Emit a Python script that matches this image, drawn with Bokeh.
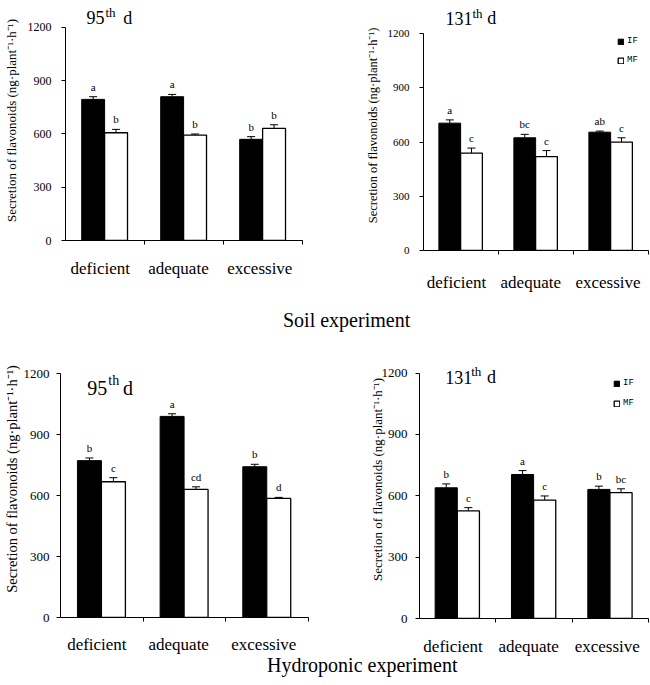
from bokeh.plotting import figure
from bokeh.models import (ColumnDataSource, Range1d, FixedTicker, Whisker, TeeHead,
                          Label, Legend, LegendItem, Div)
from bokeh.core.properties import value
from bokeh.layouts import column, row
from bokeh.embed import file_html
from bokeh.resources import INLINE

SERIF = "Liberation Serif"

# ---- data ----
categories = ["deficient", "adequate", "excessive"]
y_ticks = [0, 300, 600, 900, 1200]
y_title = "Secretion of flavonoids (ng\u00b7plant\u207b\u00b9\u00b7h\u207b\u00b9)"

# soil experiment, 95th day
soil95_if = [795, 810, 570]
soil95_if_err = [15, 13, 15]
soil95_if_sig = ["a", "a", "b"]
soil95_mf = [607, 594, 632]
soil95_mf_err = [19, 6, 20]
soil95_mf_sig = ["b", "b", "b"]

# soil experiment, 131th day
soil131_if = [705, 624, 655]
soil131_if_err = [18, 19, 6]
soil131_if_sig = ["a", "bc", "ab"]
soil131_mf = [539, 520, 600]
soil131_mf_err = [28, 33, 24]
soil131_mf_sig = ["c", "c", "c"]

# hydroponic experiment, 95th day
hydro95_if = [773, 991, 743]
hydro95_if_err = [13, 13, 12]
hydro95_if_sig = ["b", "a", "b"]
hydro95_mf = [669, 631, 587]
hydro95_mf_err = [20, 13, 5]
hydro95_mf_sig = ["c", "cd", "d"]

# hydroponic experiment, 131th day
hydro131_if = [639, 704, 631]
hydro131_if_err = [19, 19, 16]
hydro131_if_sig = ["b", "a", "b"]
hydro131_mf = [526, 579, 615]
hydro131_mf_err = [16, 20, 19]
hydro131_mf_sig = ["c", "c", "bc"]

label_pos = [0.44, 1.43, 2.46]


def series_source(vals, errs, sig, shift):
    return ColumnDataSource(dict(
        x=[i + shift for i in range(len(vals))],
        top=vals,
        upper=[v + e for v, e in zip(vals, errs)],
        sig=sig,
    ))


def panel(day, if_data, mf_data, w, h, bl, br, bb, y_end, tx, ty, tsize, th_off, th_up, d_off,
          ytick_size, ylab_size, tick_sd, lab_sd, cat_sd, legend_xy=None, legend_gap=10):
    p = figure(width=w, height=h, x_range=Range1d(0, 3), y_range=Range1d(0, y_end),
               output_backend="svg", toolbar_location=None,
               min_border_left=bl, min_border_right=br, min_border_top=0, min_border_bottom=bb)
    p.outline_line_color = None
    p.grid.visible = False
    p.background_fill_color = "white"

    s_if = series_source(*if_data, 0.35)
    s_mf = series_source(*mf_data, 0.64)

    r_if = p.vbar(x="x", top="top", width=0.29, source=s_if,
                  fill_color="black", line_color="black", line_width=1)
    r_mf = p.vbar(x="x", top="top", width=0.29, source=s_mf,
                  fill_color="white", line_color="black", line_width=1.3)

    for s in (s_if, s_mf):
        p.add_layout(Whisker(source=s, base="x", lower="top", upper="upper", dimension="height",
                             line_color="black", line_width=1, lower_head=None,
                             upper_head=TeeHead(size=8, line_color="black", line_width=1)))
        p.text(x="x", y="upper", text="sig", source=s, text_align="center",
               text_baseline="bottom", y_offset=-4, text_font=value(SERIF),
               text_font_size="11px", text_color="black")

    # y axis
    ya = p.yaxis[0]
    ya.ticker = FixedTicker(ticks=y_ticks)
    ya.bounds = (0, 1200)
    ya.major_tick_out = 4
    ya.major_tick_in = 0
    ya.minor_tick_out = 0
    ya.minor_tick_in = 0
    ya.axis_line_color = "black"
    ya.major_tick_line_color = "black"
    ya.major_label_text_font = SERIF
    ya.major_label_text_font_size = ytick_size
    ya.major_label_text_color = "black"
    ya.major_label_standoff = tick_sd
    ya.axis_label = y_title
    ya.axis_label_text_font = SERIF
    ya.axis_label_text_font_size = ylab_size
    ya.axis_label_text_font_style = "normal"
    ya.axis_label_text_color = "black"
    ya.axis_label_standoff = lab_sd

    # x axis: labels under the groups, ticks between the groups
    xa = p.xaxis[0]
    xa.ticker = FixedTicker(ticks=label_pos, minor_ticks=[1, 2, 3])
    xa.major_label_overrides = {pos: c for pos, c in zip(label_pos, categories)}
    xa.bounds = (0, 3)
    xa.major_tick_out = 0
    xa.major_tick_in = 0
    xa.minor_tick_out = 4
    xa.minor_tick_in = 0
    xa.axis_line_color = "black"
    xa.minor_tick_line_color = "black"
    xa.major_label_text_font = SERIF
    xa.major_label_text_font_size = "17px"
    xa.major_label_text_color = "black"
    xa.major_label_standoff = cat_sd

    # title "NNth d"
    common = dict(x=tx, y=ty, text_font=SERIF, text_color="black", text_baseline="alphabetic")
    p.add_layout(Label(text=day, text_font_size=f"{tsize}px", **common))
    p.add_layout(Label(text="th", x_offset=th_off, y_offset=th_up,
                       text_font_size=f"{round(tsize * 0.7)}px", **common))
    p.add_layout(Label(text="d", x_offset=d_off, text_font_size=f"{tsize}px", **common))

    if legend_xy is not None:
        leg = Legend(items=[LegendItem(label="IF", renderers=[r_if]),
                            LegendItem(label="MF", renderers=[r_mf])],
                     location=legend_xy, orientation="vertical",
                     border_line_color=None, background_fill_alpha=0,
                     padding=0, margin=0, spacing=legend_gap, glyph_width=7, glyph_height=7,
                     label_height=7, label_width=10, label_standoff=3,
                     label_text_font="Liberation Mono", label_text_font_size="9px",
                     label_text_color="black")
        p.add_layout(leg)
    return p


p1 = panel("95", (soil95_if, soil95_if_err, soil95_if_sig),
           (soil95_mf, soil95_mf_err, soil95_mf_sig),
           330, 305, 64, 28, 65, 1352, 0.265, 1254, 18, 19, 5, 36.7,
           "12px", "13px", 10, 6, 14)
p2 = panel("131", (soil131_if, soil131_if_err, soil131_if_sig),
           (soil131_mf, soil131_mf_err, soil131_mf_sig),
           320, 305, 93, 2, 55, 1384, 0.293, 1286, 18, 27, 5, 41.7,
           "11px", "12.5px", 10, 5, 18, legend_xy=(194, 185), legend_gap=9)
p3 = panel("95", (hydro95_if, hydro95_if_err, hydro95_if_sig),
           (hydro95_mf, hydro95_mf_err, hydro95_mf_sig),
           330, 318, 58, 22, 41, 1365, 0.324, 1131, 20, 21, 7, 35.7,
           "13px", "14.5px", 7, 1, 13)
p4 = panel("131", (hydro131_if, hydro131_if_err, hydro131_if_sig),
           (hydro131_mf, hydro131_mf_err, hydro131_mf_sig),
           320, 318, 89, 2, 38, 1359, 0.337, 1180, 18, 26, 6, 41.7,
           "13px", "13px", 8, -6, 14, legend_xy=(194, 210), legend_gap=10)

soil = Div(text="Soil experiment", width=650, height=35, margin=(0, 0, 0, 0),
           styles={"font-family": SERIF, "font-size": "20px", "line-height": "30px",
                   "text-indent": "283px", "white-space": "nowrap", "color": "black"})
hydro = Div(text="Hydroponic experiment", width=650, height=27, margin=(0, 0, 0, 0),
            styles={"font-family": SERIF, "font-size": "20px", "line-height": "14px",
                    "text-indent": "267px", "white-space": "nowrap", "color": "black"})

# each figure in its own box, so that the frames of one row are not aligned to each other
layout = column(row(column(p1), column(p2)), soil, row(column(p3), column(p4)), hydro)

open("out.html", "w").write(file_html(layout, INLINE))
